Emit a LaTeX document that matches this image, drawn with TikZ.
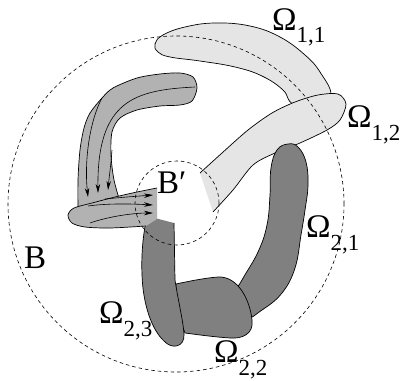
\documentclass[tikz,border=0pt]{standalone}
\usepackage{fontspec}
\setmainfont{Liberation Serif}
\usetikzlibrary{arrows.meta}
\definecolor{lightg}{gray}{0.9}
\definecolor{midg}{gray}{0.7}
\definecolor{darkg}{gray}{0.5}
\newcommand{\Om}[1]{Ω\raisebox{-13pt}{\fontsize{23}{23}\selectfont #1}}
\begin{document}
\begin{tikzpicture}[x=1pt,y=-1pt,
  outline/.style={draw=black,line width=0.7pt},
  dashcirc/.style={draw=black,dash pattern=on 3.5pt off 3pt,line width=0.6pt},
  arr/.style={draw=black,line width=0.6pt,-{Stealth[length=9pt,width=4.5pt]}},
  lab/.style={inner sep=0pt,anchor=base west,font=\fontsize{33}{33}\selectfont}]
\useasboundingbox (0,0) rectangle (404,380);
% Omega 1,1
\path[fill=lightg,outline] plot[smooth cycle,tension=0.7] coordinates {(155,44) (163,35) (185,27) (215,23) (250,26) (280,37) (305,55) (320,72) (331,95) (318,108) (293,104) (283,90) (262,76) (235,67) (200,61) (170,57) (158,52)};
% Omega 1,2
\fill[lightg] plot[smooth] coordinates {(213,212) (233,190) (253,165) (275,153) (300,143) (327,130) (340,120) (346,104) (338,94) (318,95) (295,102) (272,113) (248,130) (222,153) (200,173)} -- cycle;
\draw[outline] plot[smooth] coordinates {(213,212) (233,190) (253,165) (275,153) (300,143) (327,130) (340,120) (346,104) (338,94) (318,95) (295,102) (272,113) (248,130) (222,153) (200,173)};
% Omega 2,1
\path[fill=darkg,outline] plot[smooth cycle,tension=0.7] coordinates {(288,144) (298,147) (306,162) (308,185) (305,210) (301,235) (295,268) (282,293) (262,310) (245,318) (232,300) (242,280) (258,252) (267,225) (270,195) (271,168) (277,150)};
% Omega 2,2
\path[fill=darkg,outline] (176,284) .. controls (190,281) and (205,278) .. (218,277) .. controls (238,276) and (250,300) .. (252,320) .. controls (254,334) and (242,339) .. (230,338) .. controls (215,337) and (200,335) .. (185,333) -- (176,310) -- cycle;
% Omega 2,3
\fill[darkg] (147,216) -- (174,223) -- (175,280) .. controls (178,300) and (183,320) .. (184,334) .. controls (185,347) and (172,350) .. (164,341) .. controls (152,330) and (143,305) .. (142,275) .. controls (141,250) and (144,230) .. (147,216) -- cycle;
\draw[outline] (174,223) -- (175,280) .. controls (178,300) and (183,320) .. (184,334) .. controls (185,347) and (172,350) .. (164,341) .. controls (152,330) and (143,305) .. (142,275) .. controls (141,250) and (144,230) .. (147,216);
% boomerang
\fill[midg] plot[smooth] coordinates {(78,212) (78,180) (80,150) (84,128) (90,113) (102,98) (113,88) (137,78) (160,74) (180,73) (193,77) (197,88) (192,101) (180,105) (160,106) (137,110) (120,118) (112,132) (111,155) (114,180) (121,205)} -- (100,212) -- cycle;
\draw[outline] plot[smooth] coordinates {(78,212) (78,180) (80,150) (84,128) (90,113) (102,98) (113,88) (137,78) (160,74) (180,73) (193,77) (197,88) (192,101) (180,105) (160,106) (137,110) (120,118) (112,132) (111,155) (114,180) (121,205)};
\draw[arr] (102,98) .. controls (90,120) and (84,160) .. (88,197);
\draw[arr] (195,87) .. controls (135,90) and (97,100) .. (98,193);
\draw[arr] (112,150) .. controls (111,165) and (109,178) .. (108,190);
% horizontal leaf
\fill[midg] plot[smooth] coordinates {(146,226) (110,228) (85,227) (72,223) (68,215) (74,208) (92,203) (115,197) (137,192) (157,188)} -- (157,219) -- cycle;
\draw[outline] plot[smooth] coordinates {(146,226) (110,228) (85,227) (72,223) (68,215) (74,208) (92,203) (115,197) (137,192) (157,188)};
\draw[arr] (105,199) .. controls (125,197) and (140,196) .. (153,195);
\draw[arr] (88,206) .. controls (110,203) and (135,204) .. (153,205);
\draw[arr] (90,223) .. controls (110,216) and (135,213) .. (153,213);
% circles
\node[dashcirc,circle,minimum size=336pt,inner sep=0pt] (bigB) at (176,204) {};
\node[dashcirc,circle,minimum size=84pt,inner sep=0pt] (smallB) at (177,203) {};
% labels
\node[lab] (o11) at (272,30) {\Om{1,1}};
\node[lab] (o12) at (347,127) {\Om{1,2}};
\node[lab] (o21) at (306,237) {\Om{2,1}};
\node[lab] (o23) at (99,323) {\Om{2,3}};
\node[lab] (o22) at (214,362) {\Om{2,2}};
\node[lab] (b) at (24,268) {B};
\node[lab] (bp) at (157,193) {B′};
\end{tikzpicture}
\end{document}
